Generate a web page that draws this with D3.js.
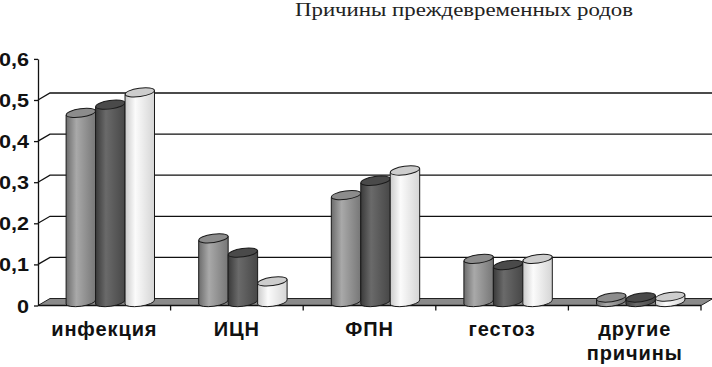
<!DOCTYPE html>
<html lang="ru">
<head>
<meta charset="UTF-8">
<script src="https://d3js.org/d3.v7.min.js"></script>
<title>Причины преждевременных родов</title>
<style>
  body { margin: 0; background: #fff; }
  svg { display: block; }
</style>
</head>
<body>
<svg width="712" height="367"></svg>
<script>
// data
var categories = ["инфекция", "ИЦН", "ФПН", "гестоз", "другие причины"];
var series = ["s1", "s2", "s3"];
var values1 = [0.46, 0.155, 0.26, 0.105, 0.011];
var values2 = [0.48, 0.12, 0.295, 0.09, 0.011];
var values3 = [0.51, 0.05, 0.32, 0.105, 0.013];
var yTicks = [0, 0.1, 0.2, 0.3, 0.4, 0.5, 0.6];
var yTickLabels = ["0", "0,1", "0,2", "0,3", "0,4", "0,5", "0,6"];
var title = "Причины преждевременных родов";

var svg = d3.select("svg");

var left = 38, right = 701, depthX = 12, depthY = -7;

var yScale = d3.scaleLinear().domain([0, 0.6]).range([305.5, 58.9]);
var x0 = d3.scaleBand().domain(categories).range([left, right]);
var bw = x0.bandwidth();
var x1 = d3.scaleBand().domain(series).range([bw / 6, bw * 5 / 6]);

var rows = categories.map(function (c, i) {
    return { cat: c, vals: [values1[i], values2[i], values3[i]] };
});

// gradients for the cylinder bodies
var defs = svg.append("defs");
var shades = [
    ["#6c6c6c", "#a9a9a9", "#777777"],
    ["#3a3a3a", "#6a6a6a", "#474747"],
    ["#cacaca", "#fbfbfb", "#d5d5d5"]
];
var topFills = ["#8c8c8c", "#4a4a4a", "#cdcdcd"];
shades.forEach(function (s, i) {
    var g = defs.append("linearGradient").attr("id", "cyl" + i)
        .attr("x1", "0%").attr("x2", "100%").attr("y1", "0%").attr("y2", "0%");
    g.append("stop").attr("offset", "0%").attr("stop-color", s[0]);
    g.append("stop").attr("offset", "35%").attr("stop-color", s[1]);
    g.append("stop").attr("offset", "100%").attr("stop-color", s[2]);
});

// title
svg.append("text")
    .attr("x", 464).attr("y", 16)
    .attr("text-anchor", "middle")
    .attr("font-family", "'Liberation Serif', 'Times New Roman', serif")
    .attr("font-size", 19)
    .attr("textLength", 338)
    .attr("lengthAdjust", "spacingAndGlyphs")
    .attr("fill", "#222")
    .text(title);

// back wall gridlines + side wall diagonals
var grid = svg.append("g").attr("stroke", "#111").attr("stroke-width", 1.3).attr("fill", "none");
yTicks.filter(function (t) { return t > 0 && t < 0.6; }).forEach(function (t) {
    var yf = yScale(t);
    grid.append("polyline")
        .attr("points", [[left, yf], [left + depthX, yf + depthY], [right + depthX + 2, yf + depthY]].join(" "));
});

// floor
var y0 = yScale(0);
svg.append("path")
    .attr("d", "M" + left + "," + y0 + "L" + right + "," + y0 +
        "L" + (right + depthX) + "," + (y0 + depthY) +
        "L" + (left + depthX) + "," + (y0 + depthY) + "Z")
    .attr("fill", "#8a8a8a")
    .attr("stroke", "#222")
    .attr("stroke-width", 1);

// y axis line and ticks
svg.append("g")
    .attr("transform", "translate(" + left + ",0)")
    .call(d3.axisLeft(yScale).tickValues(yTicks).tickFormat("").tickSize(4).tickSizeOuter(0))
    .call(function (g) {
        g.selectAll("path, line").attr("stroke", "#111").attr("stroke-width", 1.3);
    });

// y labels
svg.append("g").selectAll("text")
    .data(yTicks)
    .enter().append("text")
    .attr("transform", function (d) { return "translate(29," + (yScale(d) + 7) + ") scale(1.2,1)"; })
    .attr("text-anchor", "end")
    .attr("font-family", "'Liberation Sans', Arial, sans-serif")
    .attr("font-weight", "bold")
    .attr("font-size", 18)
    .attr("fill", "#111")
    .text(function (d, i) { return yTickLabels[i]; });

// category ticks on front edge
svg.append("g").selectAll("line")
    .data(categories)
    .enter().append("line")
    .attr("x1", function (d) { return x0(d) + bw; })
    .attr("x2", function (d) { return x0(d) + bw; })
    .attr("y1", y0).attr("y2", y0 + 5)
    .attr("stroke", "#111").attr("stroke-width", 1.3);
svg.append("line")
    .attr("x1", left).attr("x2", right).attr("y1", y0).attr("y2", y0)
    .attr("stroke", "#111").attr("stroke-width", 1.3);

// cylinders
var rx = x1.bandwidth() / 2, ry = 4.2, tilt = -8;
var sinT = Math.sin(tilt * Math.PI / 180) * rx;
var groups = svg.append("g").selectAll("g")
    .data(rows)
    .enter().append("g")
    .attr("transform", function (d) { return "translate(" + (x0(d.cat) + depthX / 2) + "," + (depthY / 2) + ")"; });

groups.each(function (row) {
    var g = d3.select(this);
    row.vals.forEach(function (v, i) {
        var cx = x1(series[i]) + rx;
        var yt = yScale(v), yb = yScale(0);
        var xl = cx - rx, xr = cx + rx;
        g.append("path")
            .attr("d", "M" + xl + "," + (yt - sinT) +
                "L" + xl + "," + (yb - sinT) +
                "A" + rx + "," + ry + " " + tilt + " 0 0 " + xr + "," + (yb + sinT) +
                "L" + xr + "," + (yt + sinT) + "Z")
            .attr("fill", "url(#cyl" + i + ")")
            .attr("stroke", "#1a1a1a").attr("stroke-width", 1);
        g.append("ellipse")
            .attr("cx", 0).attr("cy", 0)
            .attr("rx", rx).attr("ry", ry)
            .attr("transform", "translate(" + cx + "," + yt + ") rotate(" + tilt + ")")
            .attr("fill", topFills[i])
            .attr("stroke", "#1a1a1a").attr("stroke-width", 1);
    });
});

// category labels
var labels = svg.append("g")
    .attr("font-family", "'Liberation Sans', Arial, sans-serif")
    .attr("font-weight", "bold")
    .attr("font-size", 20)
    .attr("letter-spacing", "0.9px")
    .attr("fill", "#111")
    .attr("text-anchor", "middle");
labels.selectAll("text")
    .data(categories)
    .enter().append("text")
    .attr("x", function (d) { return x0(d) + bw / 2; })
    .attr("y", 336)
    .each(function (d) {
        var t = d3.select(this);
        d.split(" ").forEach(function (w, k) {
            t.append("tspan")
                .attr("x", x0(d) + bw / 2)
                .attr("dy", k === 0 ? 0 : 24)
                .text(w);
        });
    });
</script>
</body>
</html>
